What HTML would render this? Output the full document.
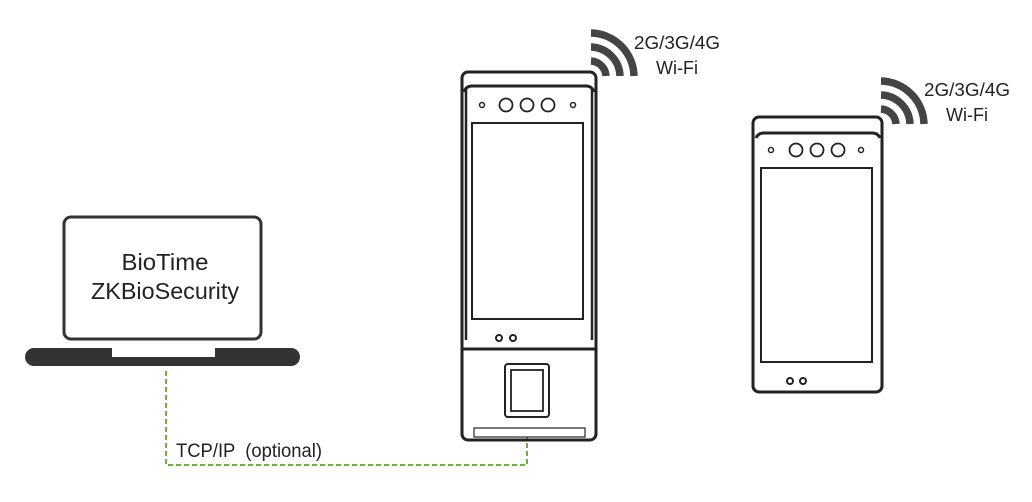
<!DOCTYPE html>
<html><head><meta charset="utf-8"><style>
html,body{margin:0;padding:0;background:#fff;}
svg{display:block;}
text{font-family:"Liberation Sans",sans-serif;fill:#222;}
</style></head><body>
<svg width="1032" height="502" viewBox="0 0 1032 502" xmlns="http://www.w3.org/2000/svg">
<!-- Laptop -->
<rect x="64" y="217" width="197" height="122" rx="7" fill="#fff" stroke="#333" stroke-width="3"/>
<text x="165" y="270" font-size="23" text-anchor="middle" textLength="87" lengthAdjust="spacingAndGlyphs">BioTime</text>
<text x="165" y="299" font-size="23" text-anchor="middle" textLength="148" lengthAdjust="spacingAndGlyphs">ZKBioSecurity</text>
<rect x="25" y="348" width="275" height="18" rx="9" fill="#333"/>
<rect x="112" y="347" width="103" height="10" fill="#fff"/>
<!-- dashed connector -->
<path d="M166 371 V465 H527 V437" fill="none" stroke="#6ab437" stroke-width="2" stroke-dasharray="5,3"/>
<text x="176" y="457" font-size="19" textLength="146" lengthAdjust="spacingAndGlyphs" xml:space="preserve">TCP/IP  (optional)</text>

<!-- Device 1 -->
<g fill="none" stroke="#222">
<rect x="462" y="72" width="134" height="368" rx="6" stroke-width="3"/>
<path d="M464 92 Q466 86 472 86 H586 Q592 86 594 92" stroke-width="3"/>
<line x1="466" y1="88" x2="466" y2="340" stroke-width="2.5"/>
<line x1="592" y1="88" x2="592" y2="340" stroke-width="2.5"/>
<line x1="462" y1="349" x2="596" y2="349" stroke-width="3"/>
<rect x="472" y="123" width="111" height="196" stroke-width="2"/>
<circle cx="482" cy="105" r="2.5" stroke-width="1.5"/>
<circle cx="573" cy="105" r="2.5" stroke-width="1.5"/>
<circle cx="506" cy="105" r="6.5" stroke-width="1.8"/>
<circle cx="527" cy="105" r="6.5" stroke-width="1.8"/>
<circle cx="548" cy="105" r="6.5" stroke-width="1.8"/>
<circle cx="499" cy="338" r="3" stroke-width="2"/>
<circle cx="513" cy="338" r="3" stroke-width="2"/>
<rect x="505" y="364" width="44" height="53" rx="3" stroke-width="2"/>
<rect x="511" y="370" width="32" height="41" stroke-width="1.8"/>
<rect x="474" y="428" width="111" height="9" stroke-width="1.2"/>
</g>
<!-- wifi 1 -->
<g fill="none" stroke="#444" stroke-width="7.5">
<path d="M591 61 A16 16 0 0 1 606 76"/>
<path d="M591 47 A30 30 0 0 1 620 76"/>
<path d="M591 33 A44 44 0 0 1 634 76"/>
</g>
<text x="677" y="49" font-size="18" text-anchor="middle" textLength="86" lengthAdjust="spacingAndGlyphs">2G/3G/4G</text>
<text x="677" y="74" font-size="18" text-anchor="middle">Wi-Fi</text>

<!-- Device 2 -->
<g fill="none" stroke="#222">
<rect x="753" y="117" width="129" height="275" rx="6" stroke-width="3"/>
<path d="M756 138 Q758 133 764 133 H872 Q878 133 880 138" stroke-width="3"/>
<rect x="761" y="168" width="111" height="194" stroke-width="2"/>
<circle cx="771" cy="150" r="2.5" stroke-width="1.5"/>
<circle cx="861" cy="150" r="2.5" stroke-width="1.5"/>
<circle cx="796" cy="150" r="6.5" stroke-width="1.8"/>
<circle cx="817" cy="150" r="6.5" stroke-width="1.8"/>
<circle cx="838" cy="150" r="6.5" stroke-width="1.8"/>
<circle cx="790" cy="381" r="3" stroke-width="2"/>
<circle cx="803" cy="381" r="3" stroke-width="2"/>
</g>
<g fill="none" stroke="#444" stroke-width="7.5">
<path d="M881 109 A16 16 0 0 1 896 124"/>
<path d="M881 95 A30 30 0 0 1 910 124"/>
<path d="M881 81 A44 44 0 0 1 924 124"/>
</g>
<text x="967" y="96" font-size="18" text-anchor="middle" textLength="86" lengthAdjust="spacingAndGlyphs">2G/3G/4G</text>
<text x="967" y="121" font-size="18" text-anchor="middle">Wi-Fi</text>
</svg>
</body></html>
